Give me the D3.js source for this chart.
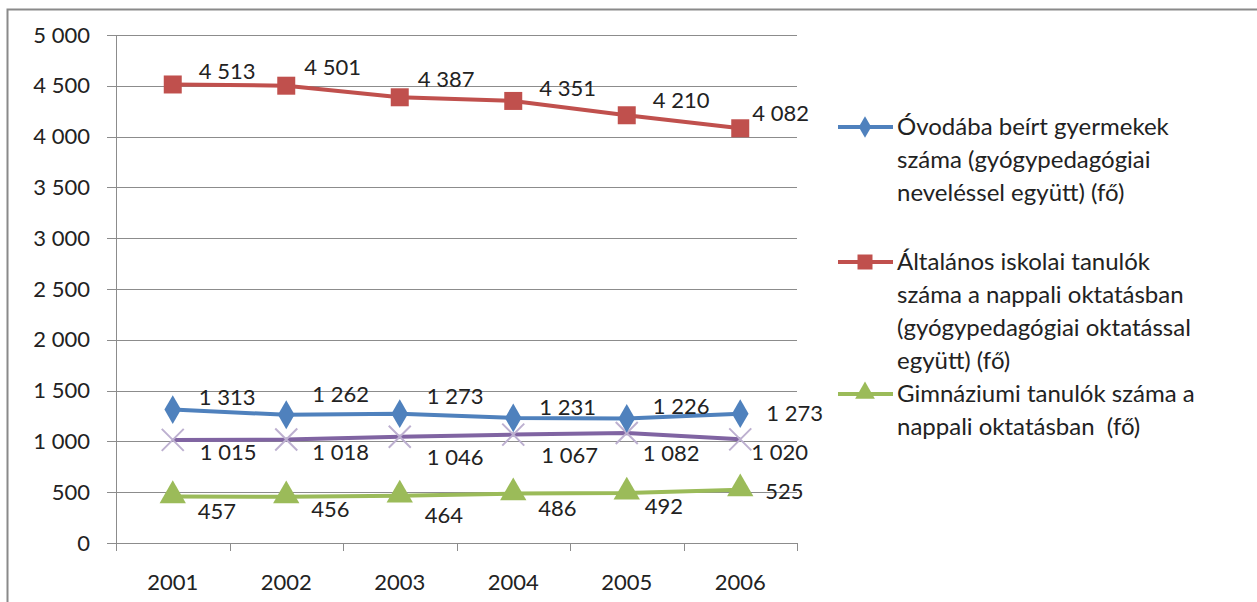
<!DOCTYPE html>
<html>
<head>
<meta charset="utf-8">
<script src="https://cdn.jsdelivr.net/npm/d3@7"></script>
<style>
  body { margin: 0; background: #fff; }
  text { font-family: Lato, "Open Sans", sans-serif; fill: #222; }
</style>
</head>
<body>
<div id="chart"></div>
<script>
// categories and series
var years = ["2001", "2002", "2003", "2004", "2005", "2006"];
var yTicks = [0, 500, 1000, 1500, 2000, 2500, 3000, 3500, 4000, 4500, 5000];

var ovoda = [1313, 1262, 1273, 1231, 1226, 1273];
var altalanos = [4513, 4501, 4387, 4351, 4210, 4082];
var gimnazium = [457, 456, 464, 486, 492, 525];
var negyedik = [1015, 1018, 1046, 1067, 1082, 1020];

var legendLabels = [
  ["Óvodába beírt gyermekek", "száma (gyógypedagógiai", "neveléssel együtt) (fő)"],
  ["Általános iskolai tanulók", "száma a nappali oktatásban", "(gyógypedagógiai oktatással", "együtt) (fő)"],
  ["Gimnáziumi tanulók száma a", "nappali oktatásban  (fő)"]
];

// label nudges (dx, dy) relative to each point, as placed in the original
var nudgeRed = [[26,-13],[18,-18],[18,-18],[26,-13],[26,-15],[12,-15]];
var nudgeBlue = [[26,-12],[26,-20],[27,-17],[26,-11],[26,-12],[26,0]];
var nudgePurple = [[27,12],[26,13],[27,21],[28,21],[16,20],[11,13]];
var nudgeGreen = [[25,15],[25,13],[25,19],[25,15],[18,13],[25,2]];

var series = [
  {values: ovoda, color: "#4F81BD", marker: "diamond", nudge: nudgeBlue},
  {values: altalanos, color: "#C0504D", marker: "square", nudge: nudgeRed},
  {values: gimnazium, color: "#9BBB59", marker: "triangle", nudge: nudgeGreen},
  {values: negyedik, color: "#8064A2", marker: "x", nudge: nudgePurple}
];

var W = 1257, H = 602;
var margin = {top: 35, left: 116, right: 460, bottom: 59};
var width = W - margin.left - margin.right,
    height = H - margin.top - margin.bottom;

var svg = d3.select("#chart").append("svg")
  .attr("width", W).attr("height", H);

// chart frame
svg.append("rect")
  .attr("x", 7.5).attr("y", 9.5).attr("width", W + 10).attr("height", H + 10)
  .attr("fill", "#fff").attr("stroke", "#8a8a8a").attr("stroke-width", 2);

var g = svg.append("g")
  .attr("transform", "translate(" + margin.left + "," + margin.top + ")");

var x = d3.scaleBand().domain(years).range([0, width]);
var y = d3.scaleLinear().domain([0, 5000]).range([height, 0]);

function fmt(v) {
  return d3.format(",")(v).replace(/,/g, " ");
}

// gridlines
g.append("g").selectAll("line").data(yTicks).enter().append("line")
  .attr("x1", -9).attr("x2", width)
  .attr("y1", function(d) { return Math.round(y(d)) + 0.5; })
  .attr("y2", function(d) { return Math.round(y(d)) + 0.5; })
  .attr("stroke", "#8c8c8c").attr("stroke-width", 1);

// y axis
var yAxis = g.append("g").attr("class", "axis")
  .call(d3.axisLeft(y).tickValues(yTicks).tickSize(0).tickPadding(26).tickFormat(fmt));
yAxis.select(".domain").remove();
yAxis.selectAll("text").style("font-size", "22px").attr("fill", "#222");
g.append("line").attr("x1", 0.5).attr("x2", 0.5).attr("y1", 0).attr("y2", height + 8)
  .attr("stroke", "#8c8c8c");

// x axis
var xAxis = g.append("g").attr("class", "axis")
  .attr("transform", "translate(0," + height + ")")
  .call(d3.axisBottom(x).tickSize(0).tickPadding(31));
xAxis.select(".domain").remove();
xAxis.selectAll("text").style("font-size", "22px").attr("fill", "#222");
g.append("g").selectAll("line").data(years.concat(["end"])).enter().append("line")
  .attr("x1", function(d, i) { return Math.round(i * x.bandwidth()) + 0.5; })
  .attr("x2", function(d, i) { return Math.round(i * x.bandwidth()) + 0.5; })
  .attr("y1", height).attr("y2", height + 8)
  .attr("stroke", "#8c8c8c");

var line = d3.line()
  .x(function(d, i) { return x(years[i]) + x.bandwidth() / 2; })
  .y(function(d) { return y(d); });

function drawMarker(sel, type, color, size) {
  if (type === "x") {
    var s = size / 2;
    sel.append("path")
      .attr("d", "M" + (-s) + "," + (-s) + "L" + s + "," + s + "M" + (-s) + "," + s + "L" + s + "," + (-s))
      .attr("stroke", "#bdb0d0").attr("stroke-width", 2).attr("fill", "none");
  } else {
    var sym = type === "diamond" ? d3.symbolDiamond : type === "square" ? d3.symbolSquare : d3.symbolTriangle;
    var area = type === "diamond" ? size * size * 0.6 : type === "square" ? size * size : size * size * 0.75;
    sel.append("path")
      .attr("d", d3.symbol().type(sym).size(area)())
      .attr("transform", type === "triangle" ? "translate(0,-1)" : null)
      .attr("fill", color);
  }
}

// lines, markers, labels (purple first so it sits underneath)
[3, 0, 2, 1].forEach(function(si) {
  var s = series[si];
  g.append("path").datum(s.values)
    .attr("d", line).attr("fill", "none")
    .attr("stroke", s.color).attr("stroke-width", 4).attr("stroke-linejoin", "round");

  var pts = g.append("g").selectAll("g").data(s.values).enter().append("g")
    .attr("transform", function(d, i) {
      return "translate(" + (x(years[i]) + x.bandwidth() / 2) + "," + y(d) + ")";
    });
  pts.each(function() { drawMarker(d3.select(this), s.marker, s.color, s.marker === "square" ? 18 : s.marker === "x" ? 22 : 20); });

  pts.append("text")
    .attr("x", function(d, i) { return s.nudge[i][0]; })
    .attr("y", function(d, i) { return s.nudge[i][1]; })
    .attr("dy", "0.35em")
    .style("font-size", "22px")
    .text(fmt);
});

// legend
var legend = svg.append("g").attr("transform", "translate(838,0)");
var legendTop = [127, 262, 394];
[0, 1, 2].forEach(function(li) {
  var s = series[li];
  var lg = legend.append("g").attr("transform", "translate(0," + legendTop[li] + ")");
  lg.append("line").attr("x1", 0).attr("x2", 55).attr("y1", 0).attr("y2", 0)
    .attr("stroke", s.color).attr("stroke-width", 4);
  var mk = lg.append("g").attr("transform", "translate(27,0)");
  drawMarker(mk, s.marker, s.color, 15);
  lg.selectAll("text").data(legendLabels[li]).enter().append("text")
    .attr("x", 59)
    .attr("y", function(d, i) { return i * 33; })
    .attr("dy", "0.35em")
    .style("font-size", "24px")
    .style("white-space", "pre")
    .text(function(d) { return d; });
});
</script>
</body>
</html>
